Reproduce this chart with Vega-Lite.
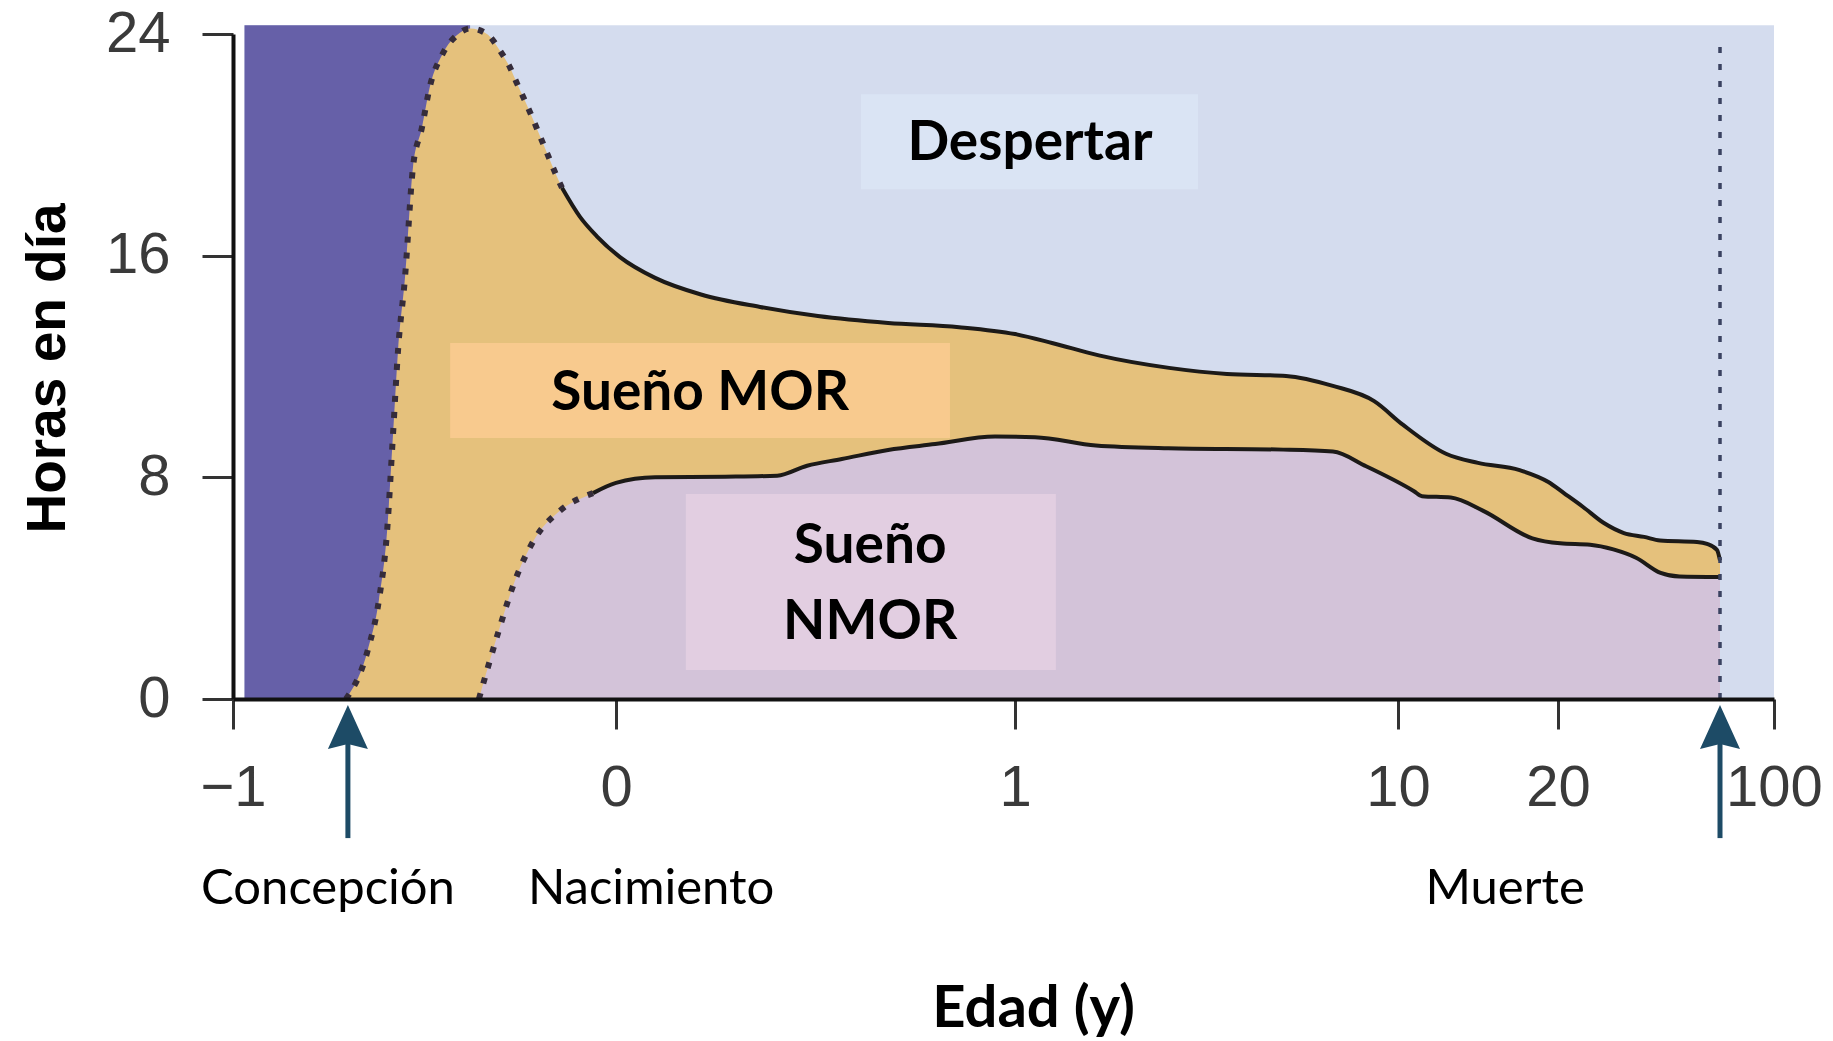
{
  "$schema": "https://vega.github.io/schema/vega-lite/v6.json",
  "width": 1541,
  "height": 665,
  "autosize": {"type": "none"},
  "padding": {"left": 233, "top": 34, "right": 59, "bottom": 342},
  "background": "white",
  "config": {"view": {"stroke": null}},
  "datasets": {
    "fondo": [{"zona": "Despertar", "edad": -0.97, "edad2": 100, "horas": 0, "horas2": 24.32}],
    "prenatal": [{"zona": "Prenatal", "edad": -0.97, "edad2": -0.381, "horas": 0, "horas2": 24.32}],
    "total": [
      {"edad": -0.705, "horas": 0}, {"edad": -0.648, "horas": 1.77}, {"edad": -0.619, "horas": 3.57},
      {"edad": -0.598, "horas": 6.0}, {"edad": -0.582, "horas": 9.6}, {"edad": -0.569, "horas": 12.6},
      {"edad": -0.551, "horas": 15.2}, {"edad": -0.53, "horas": 19.2}, {"edad": -0.507, "horas": 20.6},
      {"edad": -0.486, "horas": 22.1}, {"edad": -0.452, "horas": 23.3}, {"edad": -0.415, "horas": 23.96},
      {"edad": -0.381, "horas": 24.2}, {"edad": -0.337, "horas": 24.0}, {"edad": -0.303, "horas": 23.4},
      {"edad": -0.277, "horas": 22.8}, {"edad": -0.258, "horas": 22.2}, {"edad": -0.238, "horas": 21.6},
      {"edad": -0.219, "horas": 21.0}, {"edad": -0.198, "horas": 20.3}, {"edad": -0.18, "horas": 19.7},
      {"edad": -0.159, "horas": 19.0}, {"edad": -0.141, "horas": 18.45}, {"edad": -0.094, "horas": 17.4},
      {"edad": -0.05, "horas": 16.7}, {"edad": 0.01, "horas": 15.95}, {"edad": 0.098, "horas": 15.2},
      {"edad": 0.213, "horas": 14.6}, {"edad": 0.361, "horas": 14.15}, {"edad": 0.506, "horas": 13.82},
      {"edad": 0.682, "horas": 13.57}, {"edad": 0.86, "horas": 13.42}, {"edad": 1.0, "horas": 13.17},
      {"edad": 1.87, "horas": 12.85}, {"edad": 2.97, "horas": 12.4}, {"edad": 4.62, "horas": 11.95},
      {"edad": 5.98, "horas": 11.73}, {"edad": 7.37, "horas": 11.66}, {"edad": 8.47, "horas": 11.3},
      {"edad": 9.44, "horas": 10.75}, {"edad": 10.3, "horas": 9.9}, {"edad": 13.0, "horas": 8.85},
      {"edad": 15.0, "horas": 8.52}, {"edad": 17.6, "horas": 8.26}, {"edad": 19.4, "horas": 7.83},
      {"edad": 22.2, "horas": 7.43}, {"edad": 29.3, "horas": 6.93}, {"edad": 37.0, "horas": 6.35},
      {"edad": 44.4, "horas": 5.99}, {"edad": 51.9, "horas": 5.85}, {"edad": 57.8, "horas": 5.72},
      {"edad": 71.5, "horas": 5.67}, {"edad": 75.2, "horas": 5.6}, {"edad": 78.9, "horas": 5.38},
      {"edad": 80, "horas": 5.0}
    ],
    "nmor": [
      {"edad": -0.358, "horas": 0}, {"edad": -0.308, "horas": 2.38}, {"edad": -0.266, "horas": 4.19},
      {"edad": -0.214, "horas": 5.74}, {"edad": -0.144, "horas": 6.82}, {"edad": -0.06, "horas": 7.43},
      {"edad": 0.0, "horas": 7.8}, {"edad": 0.098, "horas": 8.0}, {"edad": 0.273, "horas": 8.02},
      {"edad": 0.404, "horas": 8.06}, {"edad": 0.479, "horas": 8.42}, {"edad": 0.566, "horas": 8.66},
      {"edad": 0.682, "horas": 8.99}, {"edad": 0.8, "horas": 9.2}, {"edad": 0.95, "horas": 9.47},
      {"edad": 1.47, "horas": 9.45}, {"edad": 2.9, "horas": 9.15}, {"edad": 4.6, "horas": 9.05},
      {"edad": 7.3, "horas": 9.0}, {"edad": 8.47, "horas": 8.93}, {"edad": 9.25, "horas": 8.4},
      {"edad": 11.0, "horas": 7.5}, {"edad": 11.5, "horas": 7.32}, {"edad": 13.3, "horas": 7.27},
      {"edad": 15.3, "horas": 6.8}, {"edad": 18.4, "horas": 5.8}, {"edad": 20.8, "horas": 5.62},
      {"edad": 31.9, "horas": 5.57}, {"edad": 40.5, "horas": 5.4}, {"edad": 48.9, "horas": 5.1},
      {"edad": 58.0, "horas": 4.55}, {"edad": 65.0, "horas": 4.42}, {"edad": 80, "horas": 4.4}
    ],
    "cajaDespertar": [{"edad": 0.614, "edad2": 5.3, "horas": 21.83, "horas2": 18.4}],
    "cajaMOR": [{"edad": -0.433, "edad2": 0.837, "horas": 12.85, "horas2": 9.42}],
    "cajaNMOR": [{"edad": 0.175, "edad2": 1.96, "horas": 7.4, "horas2": 1.05}],
    "textos": [
      {"texto": "Despertar", "edad": 1.35, "horas": 20.06},
      {"texto": "Sueño MOR", "edad": 0.211, "horas": 11.04},
      {"texto": "Sueño", "edad": 0.637, "horas": 5.52},
      {"texto": "NMOR", "edad": 0.637, "horas": 2.78}
    ],
    "muerte": [{"evento": "Muerte", "edad": 80}],
    "flechas": [{"evento": "Concepción", "edad": -0.7}, {"evento": "Muerte", "edad": 80}],
    "eventos": [
      {"evento": "Concepción", "edad": -0.752},
      {"evento": "Nacimiento", "edad": 0.088},
      {"evento": "Muerte", "edad": 16.7}
    ]
  },
  "encoding": {
    "x": {
      "field": "edad",
      "type": "quantitative",
      "scale": {"domain": [-1, 0, 1, 10, 20, 100], "range": [0, 383, 782, 1165, 1325, 1541], "nice": false, "zero": false},
      "axis": {
        "values": [-1, 0, 1, 10, 20, 100],
        "title": "Edad (y)",
        "titleFont": "Lato",
        "titleFontWeight": "bold",
        "titleFontSize": 58,
        "titleColor": "#000000",
        "titleX": 800,
        "titleY": 327,
        "titleBaseline": "alphabetic",
        "titleAlign": "center",
        "labelFont": "Liberation Sans",
        "labelFontSize": 58,
        "labelColor": "#3a3a3a",
        "labelPadding": 30,
        "labelFlush": false,
        "labelOverlap": false,
        "tickSize": 30,
        "tickWidth": 3,
        "tickColor": "#333333",
        "domainColor": "#111111",
        "domainWidth": 4,
        "grid": false,
        "zindex": 1
      }
    }
  },
  "layer": [
    {
      "data": {"name": "fondo"},
      "mark": {"type": "rect", "fill": "#d4dcee"},
      "encoding": {
        "y": {
          "field": "horas",
          "type": "quantitative",
          "scale": {"domain": [0, 24], "nice": false},
          "axis": {
            "values": [0, 8, 16, 24],
            "title": "Horas en día",
            "titleFont": "Liberation Sans",
            "titleFontWeight": "bold",
            "titleFontSize": 55,
            "titleColor": "#000000",
            "titleAngle": 270,
            "titleX": -169,
            "titleY": 334,
            "titleBaseline": "alphabetic",
            "titleAlign": "center",
            "labelFont": "Liberation Sans",
            "labelFontSize": 58,
            "labelColor": "#3a3a3a",
            "labelPadding": 32,
            "labelFlush": false,
            "labelOverlap": false,
            "tickSize": 31,
            "tickWidth": 3,
            "tickColor": "#333333",
            "domainColor": "#111111",
            "domainWidth": 4,
            "grid": false,
            "zindex": 1
          }
        },
        "x2": {"field": "edad2"},
        "y2": {"field": "horas2"}
      }
    },
    {
      "data": {"name": "prenatal"},
      "mark": {"type": "rect", "fill": "#6660a8"},
      "encoding": {
        "y": {"field": "horas", "type": "quantitative", "scale": {"domain": [0, 24], "nice": false}},
        "x2": {"field": "edad2"},
        "y2": {"field": "horas2"}
      }
    },
    {
      "data": {"name": "total"},
      "mark": {"type": "area", "interpolate": "monotone", "fill": "#e5c17c"},
      "encoding": {"y": {"field": "horas", "type": "quantitative", "scale": {"domain": [0, 24], "nice": false}}}
    },
    {
      "data": {"name": "nmor"},
      "mark": {"type": "area", "interpolate": "monotone", "fill": "#d3c3d9"},
      "encoding": {"y": {"field": "horas", "type": "quantitative", "scale": {"domain": [0, 24], "nice": false}}}
    },
    {
      "data": {"name": "cajaDespertar"},
      "mark": {"type": "rect", "fill": "#dae4f4"},
      "encoding": {
        "y": {"field": "horas", "type": "quantitative", "scale": {"domain": [0, 24], "nice": false}},
        "x2": {"field": "edad2"},
        "y2": {"field": "horas2"}
      }
    },
    {
      "data": {"name": "cajaMOR"},
      "mark": {"type": "rect", "fill": "#f8ca8e"},
      "encoding": {
        "y": {"field": "horas", "type": "quantitative", "scale": {"domain": [0, 24], "nice": false}},
        "x2": {"field": "edad2"},
        "y2": {"field": "horas2"}
      }
    },
    {
      "data": {"name": "cajaNMOR"},
      "mark": {"type": "rect", "fill": "#e2cee1"},
      "encoding": {
        "y": {"field": "horas", "type": "quantitative", "scale": {"domain": [0, 24], "nice": false}},
        "x2": {"field": "edad2"},
        "y2": {"field": "horas2"}
      }
    },
    {
      "data": {"name": "total"},
      "transform": [{"filter": "datum.edad <= -0.141"}],
      "mark": {"type": "line", "interpolate": "monotone", "stroke": "#352c3a", "strokeWidth": 6, "strokeDash": [6, 10], "strokeCap": "butt"},
      "encoding": {"y": {"field": "horas", "type": "quantitative", "scale": {"domain": [0, 24], "nice": false}}}
    },
    {
      "data": {"name": "total"},
      "transform": [{"filter": "datum.edad >= -0.141"}],
      "mark": {"type": "line", "interpolate": "monotone", "stroke": "#1c1a18", "strokeWidth": 4, "strokeJoin": "round"},
      "encoding": {"y": {"field": "horas", "type": "quantitative", "scale": {"domain": [0, 24], "nice": false}}}
    },
    {
      "data": {"name": "nmor"},
      "transform": [{"filter": "datum.edad <= -0.06"}],
      "mark": {"type": "line", "interpolate": "monotone", "stroke": "#352c3a", "strokeWidth": 6, "strokeDash": [6, 10], "strokeCap": "butt"},
      "encoding": {"y": {"field": "horas", "type": "quantitative", "scale": {"domain": [0, 24], "nice": false}}}
    },
    {
      "data": {"name": "nmor"},
      "transform": [{"filter": "datum.edad >= -0.06"}],
      "mark": {"type": "line", "interpolate": "monotone", "stroke": "#1c1a18", "strokeWidth": 4, "strokeJoin": "round"},
      "encoding": {"y": {"field": "horas", "type": "quantitative", "scale": {"domain": [0, 24], "nice": false}}}
    },
    {
      "data": {"name": "muerte"},
      "mark": {"type": "rule", "stroke": "#3a4260", "strokeWidth": 3.5, "strokeDash": [6, 11]},
      "encoding": {
        "y": {"datum": 0, "type": "quantitative", "scale": {"domain": [0, 24], "nice": false}},
        "y2": {"datum": 23.9}
      }
    },
    {
      "data": {"name": "textos"},
      "mark": {"type": "text", "font": "Lato", "fontWeight": "bold", "fontSize": 55, "color": "#000000", "align": "center", "baseline": "middle"},
      "encoding": {
        "y": {"field": "horas", "type": "quantitative", "scale": {"domain": [0, 24], "nice": false}},
        "text": {"field": "texto"}
      }
    },
    {
      "data": {"name": "flechas"},
      "mark": {"type": "rule", "stroke": "#1d4b66", "strokeWidth": 5, "strokeCap": "butt"},
      "encoding": {
        "y": {"datum": -1.0, "type": "quantitative", "scale": {"domain": [0, 24], "nice": false}},
        "y2": {"datum": -5.02}
      }
    },
    {
      "data": {"name": "flechas"},
      "mark": {"type": "point", "shape": "M0,-1.1 L1,1.1 L0,0.85 L-1,1.1 Z", "size": 1600, "filled": true, "fill": "#1d4b66", "opacity": 1, "strokeWidth": 0},
      "encoding": {"y": {"datum": -1.01, "type": "quantitative", "scale": {"domain": [0, 24], "nice": false}}}
    },
    {
      "data": {"name": "eventos"},
      "mark": {"type": "text", "font": "Lato", "fontSize": 49, "color": "#000000", "align": "center", "baseline": "alphabetic"},
      "encoding": {
        "y": {"datum": -7.4, "type": "quantitative", "scale": {"domain": [0, 24], "nice": false}},
        "text": {"field": "evento"}
      }
    }
  ]
}
